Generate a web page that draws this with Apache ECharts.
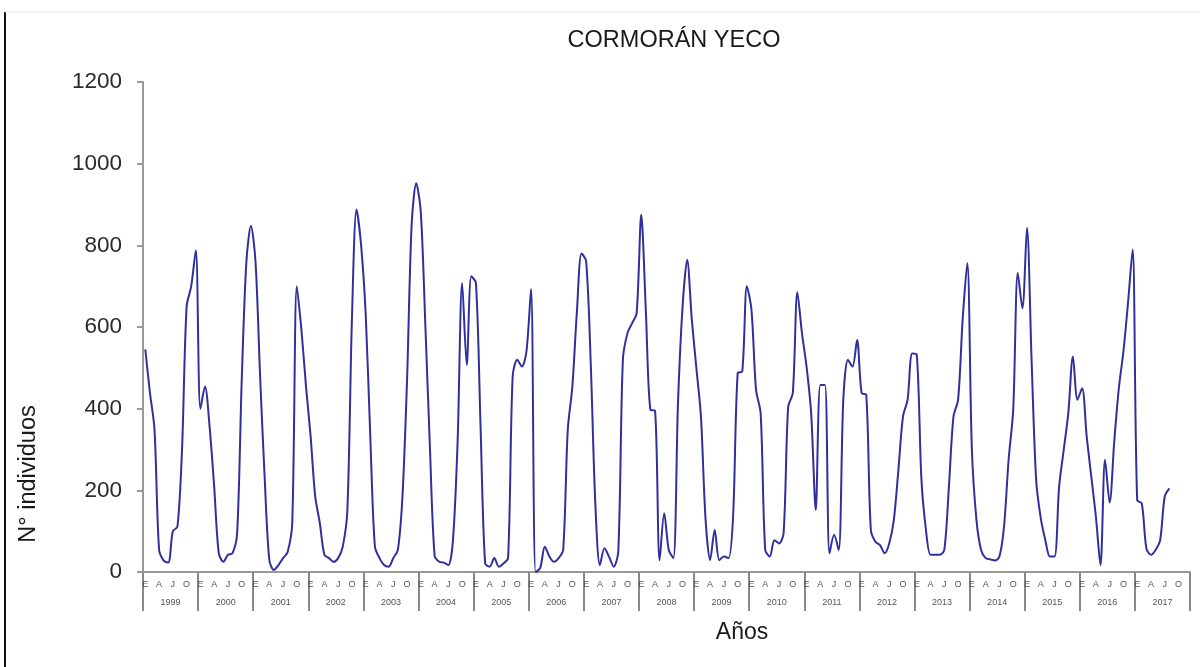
<!DOCTYPE html>
<html>
<head>
<meta charset="utf-8">
<script src="https://cdn.jsdelivr.net/npm/echarts@6/dist/echarts.min.js"></script>
<style>html,body{margin:0;padding:0;background:#fff}#c{width:1200px;height:667px}</style>
</head>
<body>
<div id="c"></div>
<script>
const years = ['1999','2000','2001','2002','2003','2004','2005','2006','2007','2008','2009','2010','2011','2012','2013','2014','2015','2016','2017'];
const monthLetters = ['E','','','A','','','J','','','O','',''];
const yTicks = [0, 200, 400, 600, 800, 1000, 1200];

const y1999 = [545, 440, 350, 55, 28, 23, 100, 111, 300, 650, 700, 788];
const y2000 = [400, 454, 356, 209, 46, 25, 42, 46, 95, 470, 757, 848];
const y2001 = [760, 480, 230, 30, 5, 17, 34, 49, 120, 700, 593, 454];
const y2002 = [332, 185, 120, 42, 34, 25, 34, 62, 150, 620, 888, 800];
const y2003 = [630, 330, 62, 34, 17, 13, 34, 54, 185, 470, 850, 952];
const y2004 = [880, 600, 300, 40, 25, 23, 17, 78, 315, 708, 507, 724];
const y2005 = [708, 360, 21, 13, 34, 13, 21, 34, 479, 520, 503, 540];
const y2006 = [693, 0, 10, 62, 38, 25, 34, 54, 348, 454, 640, 780];
const y2007 = [761, 512, 168, 17, 58, 37, 13, 50, 520, 585, 609, 634];
const y2008 = [875, 640, 397, 395, 29, 144, 54, 34, 413, 650, 765, 620];
const y2009 = [500, 381, 130, 29, 103, 29, 38, 34, 136, 487, 491, 700];
const y2010 = [642, 446, 389, 54, 38, 78, 70, 95, 405, 438, 685, 585];
const y2011 = [503, 389, 152, 458, 458, 46, 91, 54, 422, 520, 503, 568];
const y2012 = [438, 434, 103, 74, 66, 46, 70, 127, 250, 381, 422, 535];
const y2013 = [532, 230, 103, 42, 42, 42, 54, 209, 381, 422, 620, 757];
const y2014 = [300, 127, 54, 34, 31, 28, 38, 111, 275, 397, 732, 646];
const y2015 = [843, 520, 225, 132, 78, 38, 38, 209, 299, 389, 528, 422];
const y2016 = [450, 332, 234, 136, 17, 275, 170, 319, 450, 540, 659, 790];
const y2017 = [176, 168, 58, 42, 54, 78, 185, 205];

const values = [].concat(y1999, y2000, y2001, y2002, y2003, y2004, y2005, y2006, y2007, y2008,
  y2009, y2010, y2011, y2012, y2013, y2014, y2015, y2016, y2017);
const months = [];
years.forEach(function (yr) { monthLetters.forEach(function (m, i) { months.push(yr + '-' + (i + 1)); }); });

const chart = echarts.init(document.getElementById('c'), null, {renderer: 'canvas'});
const font = 'Liberation Sans, Arial, sans-serif';
chart.setOption({
  animation: false,
  backgroundColor: '#fff',
  grid: {left: 143, right: 10, top: 82, bottom: 95, containLabel: false},
  xAxis: [{
    type: 'category', data: months, boundaryGap: true, position: 'bottom',
    axisLine: {show: true, lineStyle: {color: '#999', width: 2}},
    axisTick: {show: false},
    splitLine: {show: false},
    axisLabel: {interval: 0, margin: 8, fontSize: 9, color: '#555', fontFamily: font,
      formatter: function (v, i) { return monthLetters[i % 12]; }}
  }, {
    type: 'category', data: years, boundaryGap: true, position: 'bottom', gridIndex: 0,
    axisLine: {show: false},
    axisTick: {show: true, length: 39, interval: 0, lineStyle: {color: '#888', width: 2}},
    splitLine: {show: false},
    axisLabel: {interval: 0, margin: 26, fontSize: 9, color: '#555', fontFamily: font}
  }],
  yAxis: {
    type: 'value', min: 0, max: 1200, interval: 200,
    axisLine: {show: true, lineStyle: {color: '#999', width: 2}},
    axisTick: {show: true, length: 6, lineStyle: {color: '#999', width: 2}},
    splitLine: {show: false},
    axisLabel: {fontSize: 22.5, color: '#2a2a2a', margin: 21, fontFamily: font,
      formatter: function (v) { return yTicks.indexOf(v) >= 0 ? String(v) : ''; }}
  },
  series: [{
    type: 'line', xAxisIndex: 0, data: values, smooth: 0.3, symbol: 'none',
    lineStyle: {color: '#30309c', width: 2}
  }],
  graphic: [
    {type: 'line', shape: {x1: 5, y1: 12, x2: 5, y2: 667}, style: {stroke: '#111', lineWidth: 2}},
    {type: 'line', shape: {x1: 5, y1: 12, x2: 1200, y2: 12}, style: {stroke: '#e6e6e6', lineWidth: 1}},
    {type: 'text', x: 674, y: 41, style: {text: 'CORMORÁN YECO', font: '23.5px ' + font, fill: '#1a1a1a', textAlign: 'center', textVerticalAlign: 'middle'}},
    {type: 'text', x: 742, y: 633, style: {text: 'Años', font: '23px ' + font, fill: '#1a1a1a', textAlign: 'center', textVerticalAlign: 'middle'}},
    {type: 'text', x: 29, y: 474, rotation: Math.PI / 2, style: {text: 'N° individuos', font: '23.5px ' + font, fill: '#1a1a1a', textAlign: 'center', textVerticalAlign: 'middle'}}
  ]
});
</script>
</body>
</html>
